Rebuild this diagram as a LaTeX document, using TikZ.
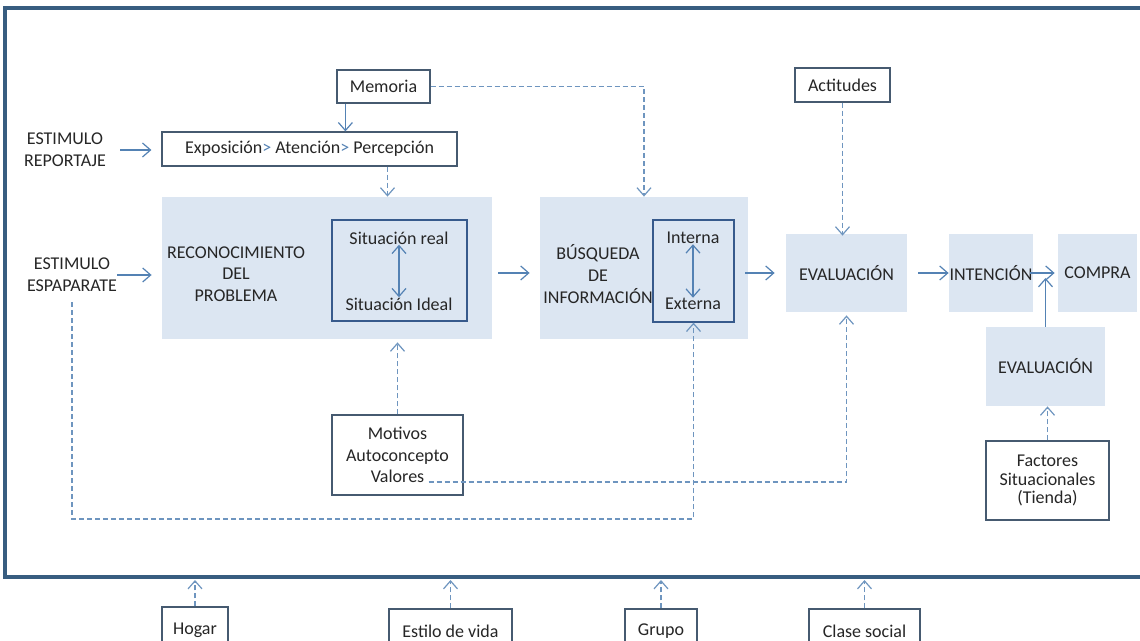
\documentclass[tikz,border=0pt]{standalone}
\usepackage{fontspec}
\setmainfont{Carlito}
\usetikzlibrary{arrows.meta,calc}
\definecolor{marco}{RGB}{56,93,128}
\definecolor{sombra}{RGB}{220,230,242}
\definecolor{flecha}{RGB}{84,130,180}
\definecolor{borde}{RGB}{70,90,112}
\definecolor{bordein}{RGB}{55,90,140}
\tikzset{
  caja/.style={draw=borde, line width=0.6pt, fill=white, inner sep=0pt, align=center},
  fondo/.style={fill=sombra, inner sep=0pt, align=center},
  interior/.style={draw=bordein, line width=0.6pt, inner sep=0pt},
  txt/.style={inner sep=0pt, align=center},
  flec/.style={draw=flecha, line width=0.6pt, ->},
  punt/.style={flec, draw=flecha!85, dash pattern=on 2.5pt off 1.5pt},
}
\begin{document}
\begin{tikzpicture}[x=0.5pt, y=-0.5pt, >={Straight Barb[length=4pt,width=7pt]},
    font=\fontsize{9}{10.8}\selectfont, text=black!85]
    \useasboundingbox (0,0) rectangle (1140,641);
    \draw[marco, line width=1.6pt] (1145,8) -| (5,577) -- (1145,577);
    \coordinate (base) at (0,577);

    \node[caja, minimum width=46.5pt, minimum height=16.5pt] (mem) at (383.5,86.5) {Memoria};
    \node[caja, minimum width=147.5pt, minimum height=17pt] (expo) at (309.5,149)
        {Exposición{\color{flecha}>} Atención{\color{flecha}>} Percepción};
    \node[caja, minimum width=47.5pt, minimum height=17pt] (act) at (842.5,85) {Actitudes};
    \node[txt] (est1) at (65,150) {ESTIMULO\\REPORTAJE};
    \node[txt] (est2) at (72,275) {ESTIMULO\\ESPAPARATE};

    \node[fondo, minimum width=165pt, minimum height=71pt] (rec) at (327,268) {};
    \node[interior, minimum width=67.5pt, minimum height=50.5pt] (sit) at (399.5,270.5) {};
    \node[txt] (real) at (399,238) {Situación real};
    \node[txt] (ideal) at (399,304) {Situación Ideal};
    \node[txt] (prob) at (236,274) {RECONOCIMIENTO\\DEL\\PROBLEMA};

    \node[fondo, minimum width=104pt, minimum height=71pt] (bus) at (644,268) {};
    \node[interior, minimum width=40.5pt, minimum height=51pt] (inf) at (693.5,271) {};
    \node[txt] (interna) at (693,238) {Interna};
    \node[txt] (externa) at (693,304) {Externa};
    \node[txt] (busq) at (598,274) {BÚSQUEDA\\DE\\INFORMACIÓN};

    \node[fondo, minimum width=60.5pt, minimum height=39pt] (eva) at (846.5,273) {EVALUACIÓN};
    \node[fondo, minimum width=42pt, minimum height=39pt] (int) at (991,273) {INTENCIÓN};
    \node[fondo, minimum width=39.5pt, minimum height=39pt] (com) at (1097.5,273) {COMPRA};
    \node[fondo, minimum width=59.5pt, minimum height=39.5pt] (eva2) at (1045.5,366.5) {EVALUACIÓN};
    \node[caja, minimum width=61.5pt, minimum height=39.5pt, font=\fontsize{9}{9.4}\selectfont]
        (fac) at (1047.5,480.5) {Factores\\Situacionales\\(Tienda)};
    \node[caja, minimum width=65.5pt, minimum height=40pt] (mot) at (397.5,455)
        {Motivos\\Autoconcepto\\Valores};

    \node[caja, minimum width=33pt, minimum height=23pt] (hogar) at (195,630) {Hogar};
    \node[caja, minimum width=61.5pt, minimum height=22pt] (estilo) at (450.5,631) {Estilo de vida};
    \node[caja, minimum width=36pt, minimum height=22pt] (grupo) at (661,631) {Grupo};
    \node[caja, minimum width=55.5pt, minimum height=22pt] (clase) at (864.5,631) {Clase social};

    \draw[flec, shorten <=7pt, shorten >=5pt] (est1.east) -- (est1.east -| expo.west);
    \draw[flec, shorten <=0pt, shorten >=5pt] (est2.east) -- (est2.east -| rec.west);
    \draw[flec] ([xshift=4.5pt]mem.south west) -- ([xshift=4.5pt]mem.south west |- expo.north);
    \draw[punt] (mem.east) -| (bus.north);
    \draw[punt] ([xshift=39pt]expo.south) -- ([xshift=39pt]expo.south |- rec.north);
    \draw[punt, shorten >=1.5pt] (mot.north) -- (mot.north |- rec.south);
    \draw[punt, shorten >=1.5pt] ($(mot.center)+(31,27)$) -| (eva.south);
    \draw[punt, shorten <=5pt] (est2.south) -- (est2.south |- 0,519) -| (inf.south);
    \draw[flec, <->] (real.south) -- (ideal.north);
    \draw[flec, <->] (interna.south) -- (externa.north);
    \draw[flec, shorten <=3pt, shorten >=5pt] ([yshift=-2.5pt]rec.east) -- ([yshift=-2.5pt]rec.east -| bus.west);
    \draw[flec, shorten <=-1.5pt, shorten >=5.5pt] (bus.east |- eva.west) -- (eva.west);
    \draw[flec, shorten <=5.5pt] (eva.east) -- (int.west);
    \draw[flec, shorten <=-1.5pt, shorten >=1.5pt] (int.east) -- (com.west);
    \draw[flec, shorten >=2.5pt] (eva2.north) -- (eva2.north |- int.east);
    \draw[punt] (fac.north) -- (fac.north |- eva2.south);
    \draw[punt, shorten >=-1pt] (act.south) -- (act.south |- eva.north);
    \foreach \b in {hogar,estilo,grupo,clase}
        \draw[punt, shorten >=1.5pt] (\b.north) -- (\b.north |- base);
\end{tikzpicture}
\end{document}
